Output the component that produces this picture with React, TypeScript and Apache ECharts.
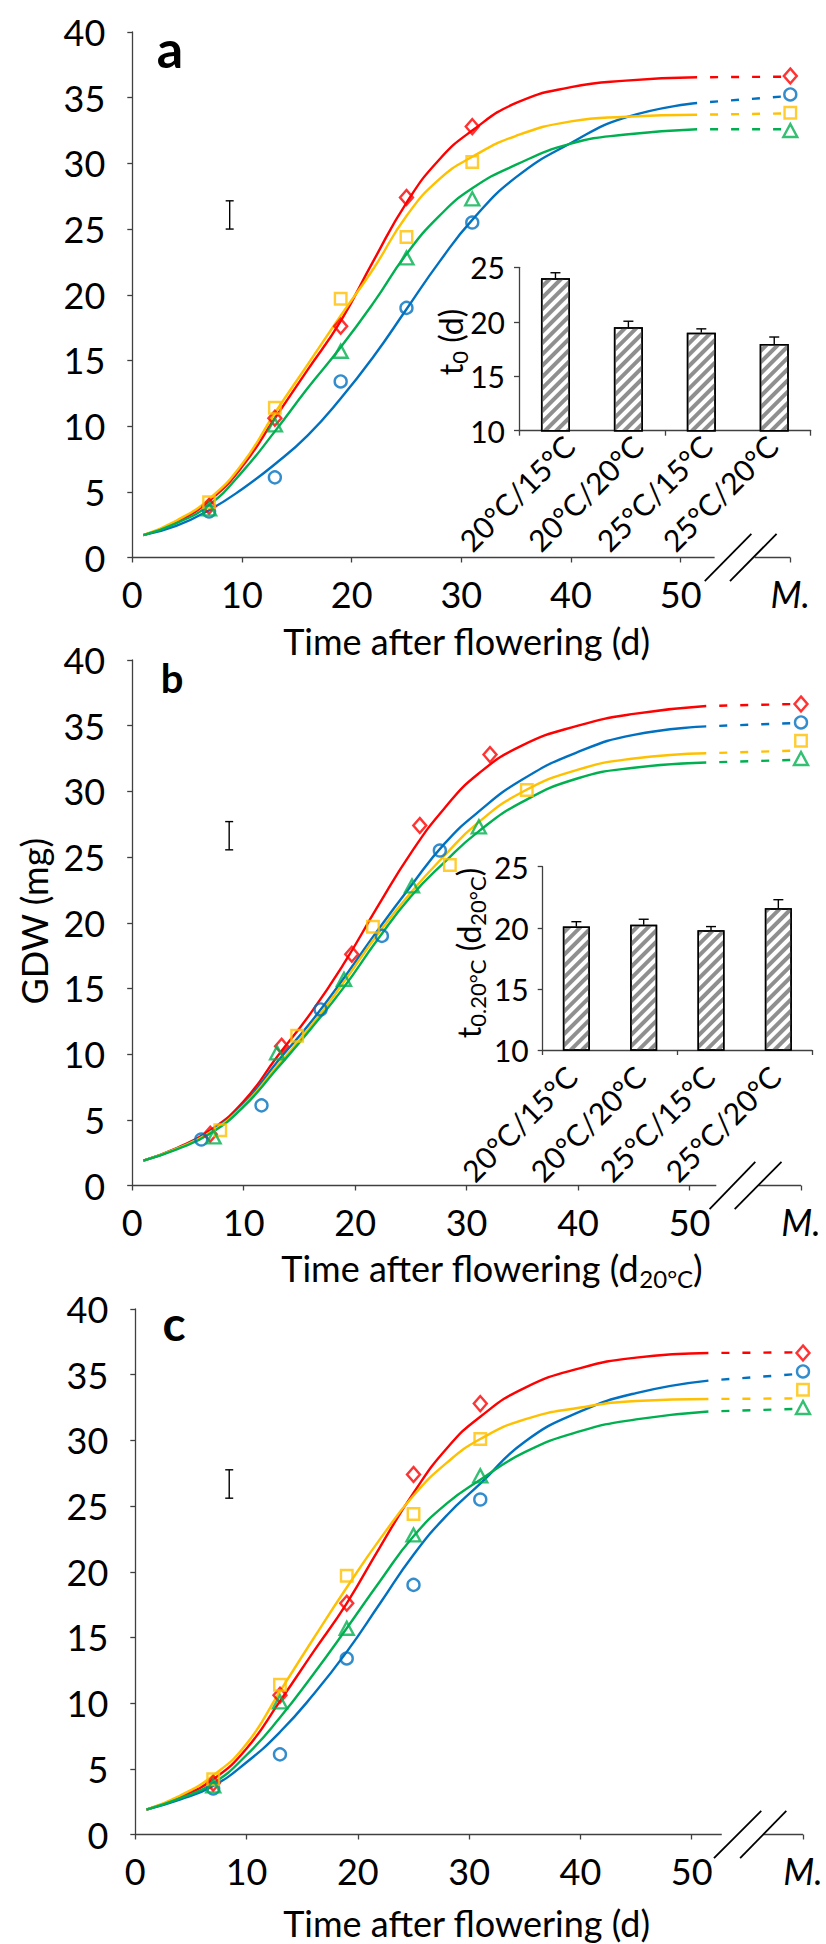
import React, { useEffect, useRef } from "react";
import * as echarts from "echarts";

// ---------- data ----------
const CURVE_X = [1, 4, 7, 10, 13, 16, 19, 22, 25, 28, 31, 35, 40, 45, 51.5];

const A_RED = [1.7, 2.7, 4.3, 6.9, 10.6, 14.3, 18.0, 22.6, 27.0, 30.3, 32.5, 34.6, 35.8, 36.3, 36.55];
const A_BLUE = [1.7, 2.4, 3.6, 5.2, 7.1, 9.3, 12.1, 15.3, 18.9, 22.5, 25.7, 28.95, 31.55, 33.5, 34.6];
const A_YELLOW = [1.7, 2.8, 4.45, 7.1, 11.0, 14.7, 18.4, 22.0, 26.0, 28.8, 30.5, 32.1, 33.2, 33.55, 33.7];
const A_GREEN = [1.7, 2.6, 4.0, 6.5, 9.6, 12.9, 16.0, 19.4, 23.1, 26.0, 28.1, 29.9, 31.5, 32.2, 32.6];
const A_DASH_END = [36.6, 35.1, 33.8, 32.6];

const B_RED = [1.9, 2.85, 4.2, 6.4, 9.8, 13.1, 16.9, 21.2, 25.3, 28.7, 31.3, 33.5, 35.0, 35.9, 36.5];
const B_BLUE = [1.9, 2.8, 4.1, 6.2, 9.4, 12.4, 15.8, 19.4, 22.8, 26.0, 28.4, 30.9, 33.0, 34.3, 34.95];
const B_YELLOW = [1.9, 2.8, 4.05, 6.1, 9.1, 12.1, 15.5, 19.1, 22.3, 25.1, 27.6, 29.95, 31.65, 32.5, 32.9];
const B_GREEN = [1.9, 2.75, 3.95, 6.0, 8.9, 11.9, 15.1, 18.7, 22.0, 24.6, 26.9, 29.2, 31.0, 31.8, 32.2];
const B_DASH_END = [36.65, 35.2, 33.1, 32.4];

const C_RED = [1.9, 2.85, 4.2, 6.55, 10.15, 13.9, 17.6, 21.9, 26.0, 29.4, 31.8, 34.0, 35.5, 36.3, 36.65];
const C_BLUE = [1.9, 2.65, 3.7, 5.5, 7.8, 10.65, 13.9, 17.6, 21.3, 24.3, 26.7, 29.9, 32.2, 33.6, 34.55];
const C_YELLOW = [1.9, 2.95, 4.5, 6.9, 10.9, 14.9, 18.8, 22.5, 25.8, 28.3, 30.1, 31.6, 32.5, 33.0, 33.15];
const C_GREEN = [1.9, 2.75, 3.9, 6.05, 8.9, 12.2, 15.7, 19.3, 22.7, 25.2, 27.0, 29.1, 30.7, 31.6, 32.2];
const C_DASH_END = [36.7, 35.05, 33.2, 32.4];

// observed grain dry weight
const DAYS = [7, 13, 19, 25, 31];
const RED_Y = [3.9, 10.6, 17.6, 27.4, 32.8];
const BLUE_Y = [3.5, 6.1, 13.4, 19.0, 25.5];
const YELLOW_Y = [4.2, 11.4, 19.7, 24.4, 30.1];
const GREEN_Y = [3.7, 10.1, 15.7, 22.8, 27.3];
const MATURITY = [36.65, 35.25, 33.85, 32.5];
const M_X = 60;

// thermal-time x of observations (panel b)
const B_RED_X = [7.0, 13.4, 19.7, 25.8, 32.1];
const B_BLUE_X = [6.2, 11.6, 16.9, 22.4, 27.6];
const B_YELLOW_X = [7.9, 14.8, 21.6, 28.5, 35.4];
const B_GREEN_X = [7.3, 13.0, 19.0, 25.1, 31.1];

// LSD bars [x, low, high]
const A_LSD = [8.88, 25.0, 27.15];
const B_LSD = [8.7, 25.55, 27.7];
const C_LSD = [8.44, 25.6, 27.76];

// insets
const CATS = ["20°C/15°C", "20°C/20°C", "25°C/15°C", "25°C/20°C"];
const T0 = [24.0, 19.5, 19.0, 17.95];
const T0_SE = [0.5, 0.55, 0.35, 0.65];
const T020 = [20.1, 20.25, 19.8, 21.6];
const T020_SE = [0.4, 0.45, 0.3, 0.7];

// ---------- layout / style ----------
const FONT = "Lato";
const AX = "#404040";
const COLORS = ["#FF0000", "#0070C0", "#FFC000", "#00B050"];
const SYMBOLS = ["diamond", "circle", "rect", "triangle"];
const SYM_SIZE: any[] = [[13, 15], 12, 11.5, [14, 13]];

const GRIDS = [
  { left: 132.3, top: 32, width: 658, height: 525.5 },
  { left: 132.2, top: 660, width: 668.8, height: 525.5 },
  { left: 135.3, top: 1309, width: 667.7, height: 525.5 },
  { left: 519, top: 267.3, width: 291.7, height: 163.4 },
  { left: 542.7, top: 866.7, width: 269.3, height: 183.3 },
];
// [axisEnd, axisResume, b1x0, b1x1, b2x0, b2x1]
const BREAKS = [
  [53.1, 56.75, 52.2, 56.45, 54.5, 58.75],
  [52.4, 56.2, 51.8, 55.9, 54.05, 58.25],
  [52.7, 56.4, 52.0, 56.25, 54.35, 58.5],
];
// inset category label anchor offsets (px from category centre / axis)
const INSET_LABEL_DX = [[13.5, 9, 5, -2], [-5, -3.7, -2, -3.4]];
const INSET_LABEL_DY = [10, 21];

function measure(text: string, size: number, weight = "normal") {
  const c = document.createElement("canvas").getContext("2d")!;
  c.font = `${weight} ${size}px ${FONT}`;
  return c.measureText(text).width;
}

function textStyle(t: string, font: string, align: string, valign: string) {
  return { text: t, font, fill: "#000", align, verticalAlign: valign, textAlign: align, textVerticalAlign: valign };
}

function title(parts: [string, boolean][], cx: number, cy: number, rot: number, size: number, sub: number, subDy: number) {
  const ws = parts.map(([t, s]) => measure(t, s ? sub : size));
  const total = ws.reduce((a, b) => a + b, 0);
  let x = -total / 2;
  const children = parts.map(([t, s], i) => {
    const el = { type: "text", x, y: s ? subDy : 0, style: textStyle(t, `${s ? sub : size}px ${FONT}`, "left", "middle") };
    x += ws[i];
    return el;
  });
  return { type: "group", x: cx, y: cy, rotation: rot, children };
}

function mainXAxis(g: number) {
  return {
    type: "value", gridIndex: g, min: 0, max: 60, interval: 10,
    axisLine: { show: false },
    axisTick: { show: true, length: 5, lineStyle: { color: AX, width: 1.3 } },
    splitLine: { show: false },
    axisLabel: {
      margin: 18, fontSize: 36, fontFamily: FONT, color: "#000",
      formatter: (v: number) => (v === 60 ? "{m|M.}" : v <= 50 ? String(v) : ""),
      rich: { m: { fontStyle: "italic", fontSize: 36, fontFamily: FONT, color: "#000" } },
    },
  };
}
function mainYAxis(g: number) {
  return {
    type: "value", gridIndex: g, min: 0, max: 40, interval: 5,
    axisLine: { show: true, lineStyle: { color: AX, width: 1.3 } },
    axisTick: { show: true, length: 5, lineStyle: { color: AX, width: 1.3 } },
    splitLine: { show: false },
    axisLabel: { margin: 27, fontSize: 36, fontFamily: FONT, color: "#000" },
  };
}
function insetXAxis(g: number) {
  return {
    type: "category", gridIndex: g, data: CATS,
    axisLine: { show: true, lineStyle: { color: AX, width: 1.3 } },
    axisTick: { show: true, length: 5, lineStyle: { color: AX, width: 1.3 } },
    axisLabel: { show: false },
  };
}
function insetYAxis(g: number) {
  return {
    type: "value", gridIndex: g, min: 10, max: 25, interval: 5,
    axisLine: { show: true, lineStyle: { color: AX, width: 1.3 } },
    axisTick: { show: true, length: 5, lineStyle: { color: AX, width: 1.3 } },
    splitLine: { show: false },
    axisLabel: { margin: 14, fontSize: 30, fontFamily: FONT, color: "#000" },
  };
}

function panelSeries(g: number, curves: number[][], dashEnds: number[], xs: number[][], lsd: number[], brk: number[]) {
  const ys = [RED_Y, BLUE_Y, YELLOW_Y, GREEN_Y];
  const out: any[] = [];
  const base = { xAxisIndex: g, yAxisIndex: g, silent: true, animation: false };
  out.push({ ...base, type: "line", symbol: "none", clip: false, z: 1, data: [[0, 0], [brk[0], 0]], lineStyle: { color: AX, width: 1.3 } });
  out.push({ ...base, type: "line", symbol: "none", clip: false, z: 1, data: [[brk[1], 0], [M_X, 0]], lineStyle: { color: AX, width: 1.3 } });
  out.push({ ...base, type: "line", symbol: "none", clip: false, z: 1, data: [[brk[2], -1.8], [brk[3], 1.8]], lineStyle: { color: "#000", width: 1.8 } });
  out.push({ ...base, type: "line", symbol: "none", clip: false, z: 1, data: [[brk[4], -1.8], [brk[5], 1.8]], lineStyle: { color: "#000", width: 1.8 } });
  curves.forEach((vals, k) => {
    out.push({
      ...base, type: "line", symbol: "none", smooth: 0.5, z: 3,
      data: CURVE_X.map((x, i) => [x, vals[i]]),
      lineStyle: { color: COLORS[k], width: 2.4 },
    });
    out.push({
      ...base, type: "line", symbol: "none", z: 3, clip: false,
      data: [[CURVE_X[CURVE_X.length - 1], vals[vals.length - 1]], [M_X - 0.5, dashEnds[k]]],
      lineStyle: { color: COLORS[k], width: 2.4, type: [8, 13], dashOffset: 8 },
    });
    out.push({
      ...base, type: "scatter", z: 4, clip: false,
      symbol: SYMBOLS[k], symbolSize: SYM_SIZE[k],
      data: xs[k].map((x, i) => [x, ys[k][i]]).concat([[M_X, MATURITY[k]]]),
      itemStyle: { color: "rgba(0,0,0,0)", borderColor: COLORS[k], borderWidth: 2.4 },
    });
  });
  out.push({
    ...base, type: "custom", z: 5,
    data: [lsd],
    renderItem: (_p: any, api: any) => {
      const p1 = api.coord([api.value(0), api.value(1)]);
      const p2 = api.coord([api.value(0), api.value(2)]);
      const st = { stroke: "#000", lineWidth: 1.4 };
      return {
        type: "group",
        children: [
          { type: "line", shape: { x1: p1[0], y1: p1[1], x2: p2[0], y2: p2[1] }, style: st },
          { type: "line", shape: { x1: p1[0] - 4, y1: p1[1], x2: p1[0] + 4, y2: p1[1] }, style: st },
          { type: "line", shape: { x1: p2[0] - 4, y1: p2[1], x2: p2[0] + 4, y2: p2[1] }, style: st },
        ],
      };
    },
  });
  return out;
}

function insetSeries(g: number, vals: number[], se: number[], barWidth: number) {
  return [
    {
      type: "bar", xAxisIndex: g, yAxisIndex: g, silent: true, barWidth, z: 6,
      data: vals,
      itemStyle: {
        color: "#fff", borderColor: "#000", borderWidth: 1.5,
        decal: { symbol: "rect", symbolSize: 1, color: "#8f8f8f", dashArrayX: [1, 0], dashArrayY: [4, 4], rotation: -Math.PI / 4 },
      },
    },
    {
      type: "custom", xAxisIndex: g, yAxisIndex: g, silent: true, z: 7,
      data: vals.map((v, i) => [i, v, v + se[i]]),
      renderItem: (_p: any, api: any) => {
        const p1 = api.coord([api.value(0), api.value(1)]);
        const p2 = api.coord([api.value(0), api.value(2)]);
        const st = { stroke: "#000", lineWidth: 1.4 };
        return {
          type: "group",
          children: [
            { type: "line", shape: { x1: p1[0], y1: p1[1], x2: p2[0], y2: p2[1] }, style: st },
            { type: "line", shape: { x1: p2[0] - 5, y1: p2[1], x2: p2[0] + 5, y2: p2[1] }, style: st },
          ],
        };
      },
    },
  ];
}

function baseGraphics() {
  const letter = (t: string, x: number, y: number, size: number) => ({
    type: "text", x, y, style: textStyle(t, `bold ${size}px ${FONT}`, "center", "middle"),
  });
  return [
    letter("a", 170, 47.5, 52),
    letter("b", 172, 678, 40),
    letter("c", 174, 1322, 48),
    title([["Time after flowering (d)", false]], 467, 641, 0, 36, 24, 10),
    title([["Time after flowering (d", false], ["20°C", true], [")", false]], 492, 1268, 0, 36, 24, 10),
    title([["Time after flowering (d)", false]], 467, 1923, 0, 36, 24, 10),
    title([["GDW (mg)", false]], 34, 921, Math.PI / 2, 36, 24, 10),
    title([["t", false], ["0", true], [" (d)", false]], 450, 342, Math.PI / 2, 32, 22, 9),
    title([["t", false], ["0.20°C", true], [" (d", false], ["20°C", true], [")", false]], 468, 953, Math.PI / 2, 32, 22, 9),
  ];
}

function buildOption() {
  return {
    animation: false,
    backgroundColor: "#fff",
    grid: GRIDS.map((g) => ({ ...g, containLabel: false, outerBoundsMode: "none" })),
    xAxis: [mainXAxis(0), mainXAxis(1), mainXAxis(2), insetXAxis(3), insetXAxis(4)],
    yAxis: [mainYAxis(0), mainYAxis(1), mainYAxis(2), insetYAxis(3), insetYAxis(4)],
    series: [
      ...panelSeries(0, [A_RED, A_BLUE, A_YELLOW, A_GREEN], A_DASH_END, [DAYS, DAYS, DAYS, DAYS], A_LSD, BREAKS[0]),
      ...panelSeries(1, [B_RED, B_BLUE, B_YELLOW, B_GREEN], B_DASH_END, [B_RED_X, B_BLUE_X, B_YELLOW_X, B_GREEN_X], B_LSD, BREAKS[1]),
      ...panelSeries(2, [C_RED, C_BLUE, C_YELLOW, C_GREEN], C_DASH_END, [DAYS, DAYS, DAYS, DAYS], C_LSD, BREAKS[2]),
      ...insetSeries(3, T0, T0_SE, 29),
      ...insetSeries(4, T020, T020_SE, 27),
    ],
    graphic: baseGraphics(),
  };
}

export default function App() {
  const ref = useRef<HTMLDivElement>(null);
  useEffect(() => {
    document.body.style.margin = "0";
    const chart = echarts.init(ref.current!, null, { renderer: "svg", width: 826, height: 1944 });
    chart.setOption(buildOption() as any);
    // inset category labels, placed from the category scale
    const labels: any[] = [];
    [3, 4].forEach((g, k) => {
      CATS.forEach((c, i) => {
        const p = chart.convertToPixel({ xAxisIndex: g, yAxisIndex: g } as any, [i, 10]) as number[];
        labels.push({
          type: "text",
          x: p[0] + INSET_LABEL_DX[k][i],
          y: p[1] + INSET_LABEL_DY[k],
          rotation: Math.PI / 4,
          style: textStyle(c, `30px ${FONT}`, "right", "middle"),
        });
      });
    });
    chart.setOption({ graphic: [...baseGraphics(), ...labels] } as any);
    return () => chart.dispose();
  }, []);
  return <div ref={ref} style={{ width: 826, height: 1944, background: "#fff" }} />;
}
